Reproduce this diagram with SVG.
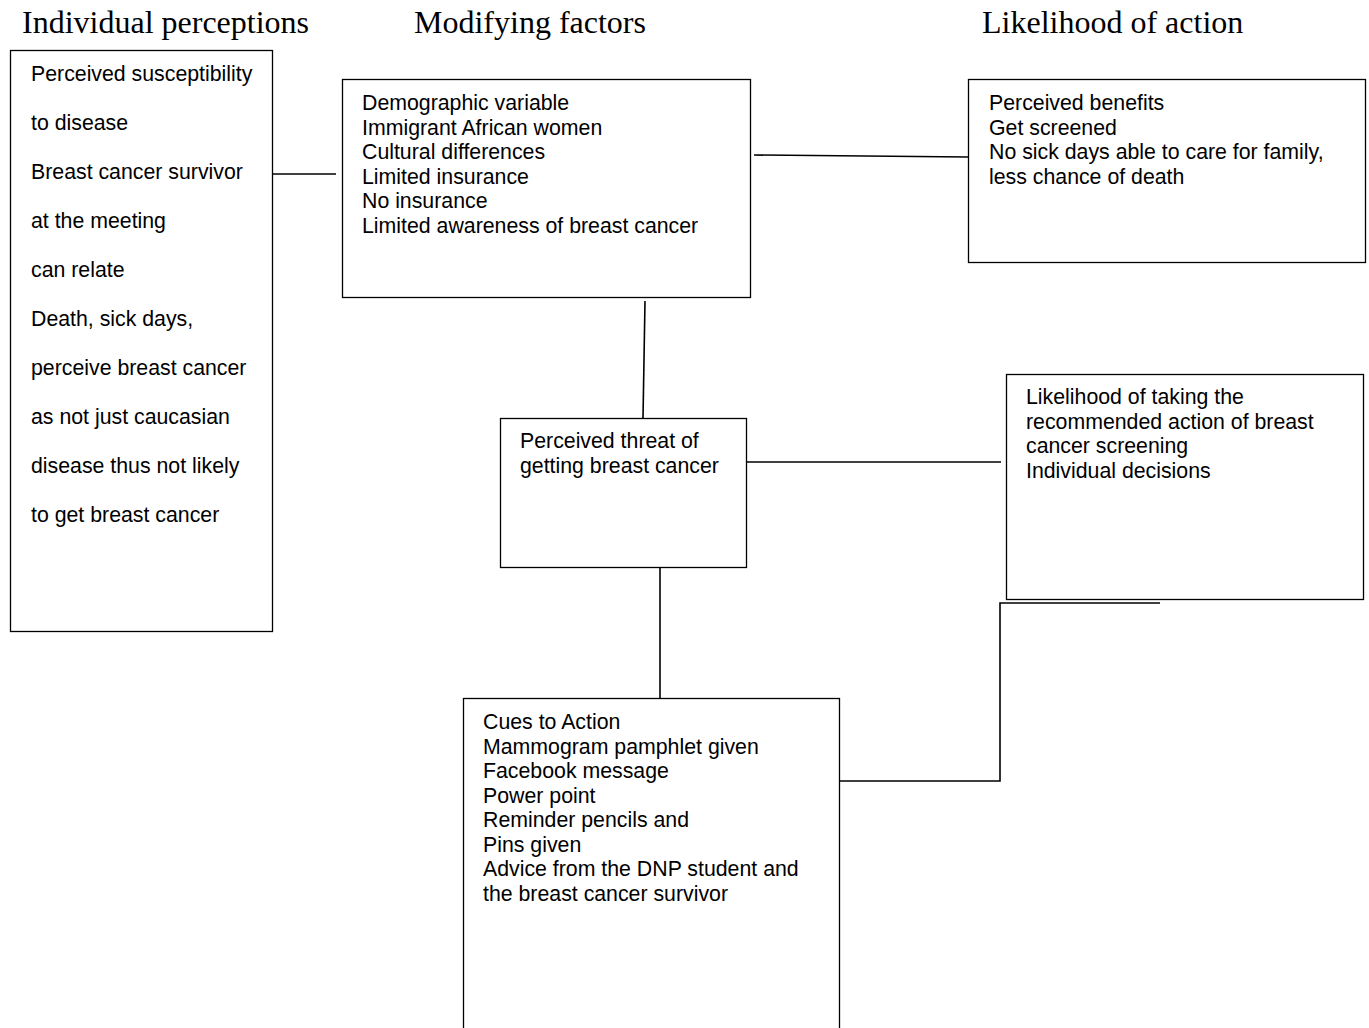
<svg xmlns="http://www.w3.org/2000/svg" width="1369" height="1028" viewBox="0 0 1369 1028">
<style>
.hdr{font-family:"Liberation Serif","Times New Roman",serif;font-size:32px;fill:#000}
.t{font-family:"Liberation Sans",Arial,sans-serif;font-size:21.3px;fill:#000}
.box{fill:#fff;stroke:#000;stroke-width:1.3}
.c{fill:none;stroke:#000;stroke-width:1.6}
</style>
<rect width="1369" height="1028" fill="#fff"/>
<g id="headers">
<text class="hdr" x="22" y="33">Individual perceptions</text>
<text class="hdr" x="414" y="33">Modifying factors</text>
<text class="hdr" x="982" y="33">Likelihood of action</text>
</g>
<g id="connectors">
<line class="c" x1="273" y1="174" x2="336" y2="174"/>
<line class="c" x1="754" y1="155" x2="968" y2="157"/>
<line class="c" x1="645" y1="301" x2="643" y2="418"/>
<line class="c" x1="746" y1="462" x2="1001" y2="462"/>
<line class="c" x1="660" y1="568" x2="660" y2="700"/>
<polyline class="c" points="839,781 1000,781 1000,603 1160,603"/>
</g>
<g id="n1">
<rect class="box" x="10.5" y="50.5" width="262" height="581"/>
<text class="t" x="31" y="81">Perceived susceptibility</text>
<text class="t" x="31" y="130">to disease</text>
<text class="t" x="31" y="179">Breast cancer survivor</text>
<text class="t" x="31" y="228">at the meeting</text>
<text class="t" x="31" y="277">can relate</text>
<text class="t" x="31" y="326">Death, sick days,</text>
<text class="t" x="31" y="375">perceive breast cancer</text>
<text class="t" x="31" y="424">as not just caucasian</text>
<text class="t" x="31" y="473">disease thus not likely</text>
<text class="t" x="31" y="522">to get breast cancer</text>
</g>
<g id="n2">
<rect class="box" x="342.5" y="79.5" width="408" height="218"/>
<text class="t" x="362" y="110">Demographic variable</text>
<text class="t" x="362" y="134.5">Immigrant African women</text>
<text class="t" x="362" y="159">Cultural differences</text>
<text class="t" x="362" y="183.5">Limited insurance</text>
<text class="t" x="362" y="208">No insurance</text>
<text class="t" x="362" y="232.5">Limited awareness of breast cancer</text>
</g>
<g id="n3">
<rect class="box" x="968.5" y="79.5" width="397" height="183"/>
<text class="t" x="989" y="110">Perceived benefits</text>
<text class="t" x="989" y="134.5">Get screened</text>
<text class="t" x="989" y="159">No sick days able to care for family,</text>
<text class="t" x="989" y="183.5">less chance of death</text>
</g>
<g id="n4">
<rect class="box" x="500.5" y="418.5" width="246" height="149"/>
<text class="t" x="520" y="447.5">Perceived threat of</text>
<text class="t" x="520" y="472.5">getting breast cancer</text>
</g>
<g id="n5">
<rect class="box" x="1006.5" y="374.5" width="357" height="225"/>
<text class="t" x="1026" y="404">Likelihood of taking the</text>
<text class="t" x="1026" y="428.5">recommended action of breast</text>
<text class="t" x="1026" y="453">cancer screening</text>
<text class="t" x="1026" y="477.5">Individual decisions</text>
</g>
<g id="n6">
<rect class="box" x="463.5" y="698.5" width="376" height="340"/>
<text class="t" x="483" y="729">Cues to Action</text>
<text class="t" x="483" y="753.5">Mammogram pamphlet given</text>
<text class="t" x="483" y="778">Facebook message</text>
<text class="t" x="483" y="802.5">Power point</text>
<text class="t" x="483" y="827">Reminder pencils and</text>
<text class="t" x="483" y="851.5">Pins given</text>
<text class="t" x="483" y="876">Advice from the DNP student and</text>
<text class="t" x="483" y="900.5">the breast cancer survivor</text>
</g>
</svg>
